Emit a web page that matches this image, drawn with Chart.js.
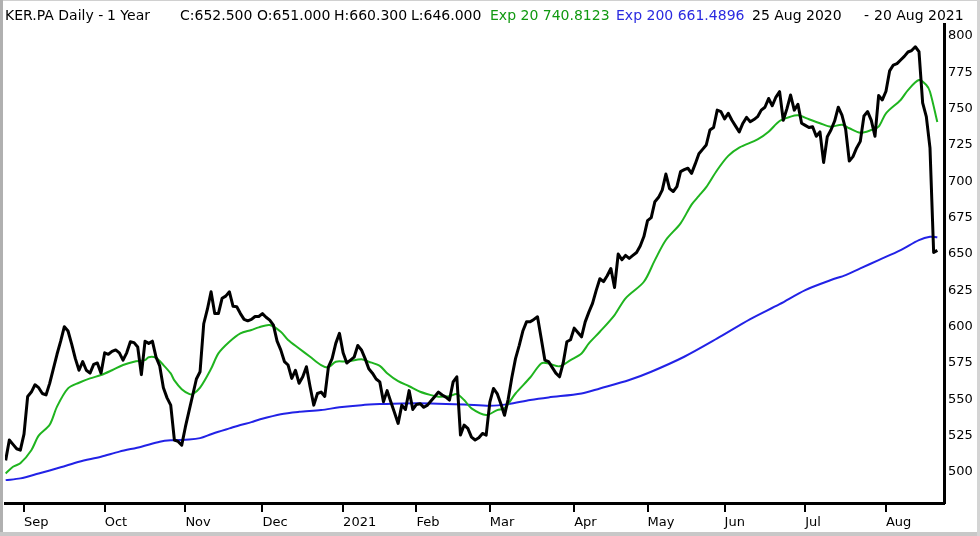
<!DOCTYPE html>
<html>
<head>
<meta charset="utf-8">
<script src="https://cdn.jsdelivr.net/npm/chart.js@4.4.1/dist/chart.umd.min.js"></script>
<style>
html,body{margin:0;padding:0;background:#fff;}
#wrap{position:relative;width:980px;height:536px;overflow:hidden;background:#fff;}
#c{position:absolute;left:0;top:0;}
.hdr{position:absolute;top:7px;font-family:"DejaVu Sans",sans-serif;font-size:14px;line-height:16px;white-space:nowrap;color:#000;}
.g{color:#119911;}
.b{color:#2a2ae0;}
#fl{position:absolute;left:0;top:0;width:3px;height:536px;background:#b0b0b0;}
#fb{position:absolute;left:0;top:532px;width:980px;height:4px;background:#c8c8c8;}
#fr{position:absolute;left:977px;top:0;width:3px;height:536px;background:#d4d4d4;}
#ft{position:absolute;left:0;top:0;width:980px;height:1px;background:#d0d0d0;}
</style>
</head>
<body>
<div id="wrap">
<canvas id="c" width="980" height="536"></canvas>
<div class="hdr" style="left:5px">KER.PA Daily -</div>
<div class="hdr" style="left:107px">1 Year</div>
<div class="hdr" style="left:180px">C:652.500</div>
<div class="hdr" style="left:257px">O:651.000</div>
<div class="hdr" style="left:334px">H:660.300</div>
<div class="hdr" style="left:411px">L:646.000</div>
<div class="hdr g" style="left:490px">Exp 20 740.8123</div>
<div class="hdr b" style="left:616px">Exp 200 661.4896</div>
<div class="hdr" style="left:752px">25 Aug 2020</div>
<div class="hdr" style="left:864px">-</div>
<div class="hdr" style="left:874px">20 Aug 2021</div>
<div id="ft"></div><div id="fl"></div><div id="fb"></div><div id="fr"></div>
</div>
<script>
// Trading-day index 0 = 25 Aug 2020 ... 254 = 20 Aug 2021
const monthLabels = ['Sep','Oct','Nov','Dec','2021','Feb','Mar','Apr','May','Jun','Jul','Aug'];
const monthStartIdx = [5,27,49,70,92,112,132,155,175,196,218,240];
const yTickValues = [500,525,550,575,600,625,650,675,700,725,750,775,800];

// Daily close (black)
const closes = [
508,522,519,516,515,526,552,555,560,558,
554,553,561,571,581,590,600,597,588,578,
570,576,570,568,574,575,568,582,581,583,
584,582,577,582,589.6,589,586,567,590,588.5,
590,579,573,558,551,546,522,521,518.5,531,
542,553,564,569,602,612,624,609,609,619.5,
621,624,614,613.7,609,605,604,605,607,607,
609,606.5,604.5,601,590,584,576,573.6,564.4,570,
561,565.5,572.4,558.7,546,554,555,552,572.4,578,
588.5,595.4,582,575,577,579,587,584,578,571,
568,564,562,548.3,556,548.3,541,533.4,546,543,
556,543,546.5,547,544.5,546,549,552,555,553,
551.5,549.5,562,565.5,525.4,532.3,530,524,522,523.5,
526.5,525.4,548,557.5,554,547,539,550,565,578,
587,597,603.3,603.3,605,606.8,592,577,576,572,
568,565.5,575,589.6,591,599,596,593,603.3,610,
616,625,633,631,635,640,627,650,646,649,
647,649,651,655.5,662,673,675,686,689,694,
705,695,693,696.3,706.7,708,709,705.5,712,719,
722,725,735.3,737,749,748,743,746.8,742,738,
734,740,744,741,742.5,744.5,749,751,757,752,
758,761.7,742,750,759.4,749,753,740,738.5,737,
737.6,731,734,713,730.7,735.3,741.5,751,745.6,736,
714,717,723,727.5,745,748,742,731,759,756,
762,776,780,781,783.5,786,789,790,792.6,789.2,
754,744.5,723,651,652.5
];

// Exp 20 (green), read at these day indices
const ema20Idx = [0,2,4,7,9,12,14,17,20,23,26,29,32,35,38,39,41,43,45,46,48,50,51,53,56,58,61,64,67,69,72,75,77,80,83,86,88,90,93,97,99,102,104,107,110,113,116,118,121,123,125,127,131,134,136,139,143,146,148,151,154,157,159,162,166,169,174,177,180,184,187,189,191,194,197,200,205,208,211,214,216,219,222,225,228,230,233,236,238,240,244,246,249,251,252,254];
const ema20 = [499,503.6,506,515,525,532.5,545,557.5,561.4,564.4,566.7,570,573.6,575.9,577,579,578.5,573.6,567.8,563,557,553.8,553.6,558,571,581.6,589.6,595.4,597.7,599.5,601.1,596.5,590.8,585,579.3,573.6,572,575.9,576,577.5,575.9,573,568,562.5,559,555.2,552.9,551.8,552.2,553.6,549.5,543.8,539.2,542.6,543.8,554,565,574.7,574.7,572.7,577,581.6,588.5,596.5,608,619.5,630.9,645.8,659.6,671.1,684,690,696,707.8,717.5,723.2,728.8,734.1,741.5,744.5,745.4,742.7,740,737.6,739,736.5,733.4,735.3,737.6,746.8,756,762.8,769.7,766.3,761.7,740.8];

// Exp 200 (blue), read at these day indices
const ema200Idx = [0,4,9,15,20,26,31,37,42,45,50,53,56,58,61,64,67,69,75,80,86,91,97,102,108,116,125,132,137,143,148,157,162,170,176,185,194,203,211,218,225,229,233,238,244,249,252,254];
const ema200 = [494.4,495.6,499,503.2,507,510.5,514,517.4,520.8,521.8,522.3,523.3,526,527.7,530,532.3,534.3,536,539.8,541.4,542.6,544.5,546,546.7,547.2,547.2,546.5,545.6,546.7,549.5,551.3,554,557.5,563.3,569,579.3,591.9,605.2,615.5,625.2,632.1,635.5,640.1,645.8,652.7,659.6,661.9,661.5];

const closeData = closes.map((v, i) => ({x: i, y: v}));
const ema20Data = ema20Idx.map((d, k) => ({x: d, y: ema20[k]}));
const ema200Data = ema200Idx.map((d, k) => ({x: d, y: ema200[k]}));

new Chart(document.getElementById('c'), {
  type: 'line',
  data: {
    datasets: [
      {label: 'KER.PA', data: closeData, borderColor: '#000000', borderWidth: 3, pointRadius: 0, tension: 0, borderJoinStyle: 'round', fill: false},
      {label: 'Exp 20', data: ema20Data, borderColor: '#1fb41f', borderWidth: 2, pointRadius: 0, tension: 0.3, fill: false},
      {label: 'Exp 200', data: ema200Data, borderColor: '#2222e6', borderWidth: 2, pointRadius: 0, tension: 0.3, fill: false}
    ]
  },
  options: {
    responsive: false,
    animation: false,
    devicePixelRatio: 1,
    events: [],
    layout: {padding: {left: 5, top: 24, right: 0, bottom: 0}},
    plugins: {legend: {display: false}, tooltip: {enabled: false}, title: {display: false}},
    scales: {
      x: {
        type: 'linear',
        position: 'bottom',
        min: -0.18,
        max: 255.82,
        afterFit: (s) => { s.height = 33; },
        afterBuildTicks: (s) => { s.ticks = monthStartIdx.map(v => ({value: v})); },
        border: {display: true, color: '#000', width: 3},
        grid: {display: true, drawOnChartArea: false, drawTicks: true, tickLength: 9, lineWidth: 2, color: '#000'},
        ticks: {
          autoSkip: false, maxRotation: 0, minRotation: 0, align: 'start', padding: 3,
          color: '#000', font: {family: 'DejaVu Sans', size: 13},
          callback: (v) => { const k = monthStartIdx.indexOf(v); return k >= 0 ? monthLabels[k] : ''; }
        }
      },
      y: {
        type: 'linear',
        position: 'right',
        min: 478.66,
        max: 808.26,
        afterFit: (s) => { s.width = 36; },
        afterBuildTicks: (s) => { s.ticks = yTickValues.map(v => ({value: v})); },
        border: {display: true, color: '#000', width: 3},
        grid: {display: false, drawTicks: false},
        ticks: {padding: 4, color: '#000', font: {family: 'DejaVu Sans', size: 13}}
      }
    }
  }
});
</script>
</body>
</html>
